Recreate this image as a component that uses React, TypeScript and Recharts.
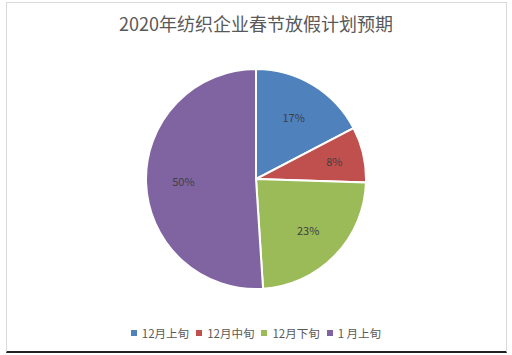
import { Pie, PieChart, Cell, Legend } from "recharts";

const categories = ["12月上旬", "12月中旬", "12月下旬", "1 月上旬"];
const shares = [17, 8, 23, 50];
const colors = ["#4F81BD", "#C0504D", "#9BBB59", "#8064A2"];

const data = categories.map((name, i) => ({ name, value: shares[i] }));

const RAD = Math.PI / 180;

function SliceLabel(props: any) {
  const { cx, cy, midAngle, outerRadius, value } = props;
  const r = outerRadius * (value < 10 ? 0.73 : 0.66);
  const x = cx + r * Math.cos(-midAngle * RAD);
  const y = cy + r * Math.sin(-midAngle * RAD);
  return (
    <text x={x} y={y} textAnchor="middle" dominantBaseline="central" fill="#404040" fontSize={11}>
      {value}%
    </text>
  );
}

function LegendRow() {
  return (
    <div style={{ display: "flex", justifyContent: "center", alignItems: "center", fontSize: 11.5, color: "#595959" }}>
      {categories.map((c, i) => (
        <span key={c} style={{ display: "flex", alignItems: "center", marginRight: i < 3 ? 7 : 0 }}>
          <span style={{ width: 6, height: 6, background: colors[i], marginRight: 5, display: "inline-block" }} />
          {c}
        </span>
      ))}
    </div>
  );
}

export default function App() {
  return (
    <div
      style={{
        position: "absolute",
        left: 0,
        top: 0,
        width: 512,
        height: 355,
        background: "#fff",
        fontFamily: "'Noto Sans CJK SC', 'Noto Sans', sans-serif",
      }}
    >
      <div
        style={{
          position: "absolute",
          left: 6,
          top: 2,
          width: 499,
          height: 348,
          border: "1px solid #d9d9d9",
          borderBottom: "2px solid #222",
        }}
      />
      <div
        style={{
          position: "absolute",
          left: 0,
          top: 10,
          width: 512,
          textAlign: "center",
          fontSize: 18,
          color: "#595959",
          lineHeight: "26px",
        }}
      >
        2020年纺织企业春节放假计划预期
      </div>
      <PieChart
        width={512}
        height={355}
        margin={{ top: 0, right: 0, bottom: 0, left: 0 }}
        style={{ position: "absolute", left: 0, top: 0 }}
      >
        <Pie
          data={data}
          dataKey="value"
          nameKey="name"
          cx={256}
          cy={179}
          outerRadius={110}
          startAngle={90}
          endAngle={-270}
          stroke="#fff"
          strokeWidth={2}
          label={SliceLabel}
          labelLine={false}
          isAnimationActive={false}
        >
          {data.map((d, i) => (
            <Cell key={d.name} fill={colors[i]} />
          ))}
        </Pie>
        <Legend
          verticalAlign="bottom"
          wrapperStyle={{ bottom: 14 }}
          content={() => <LegendRow />}
        />
      </PieChart>
    </div>
  );
}
